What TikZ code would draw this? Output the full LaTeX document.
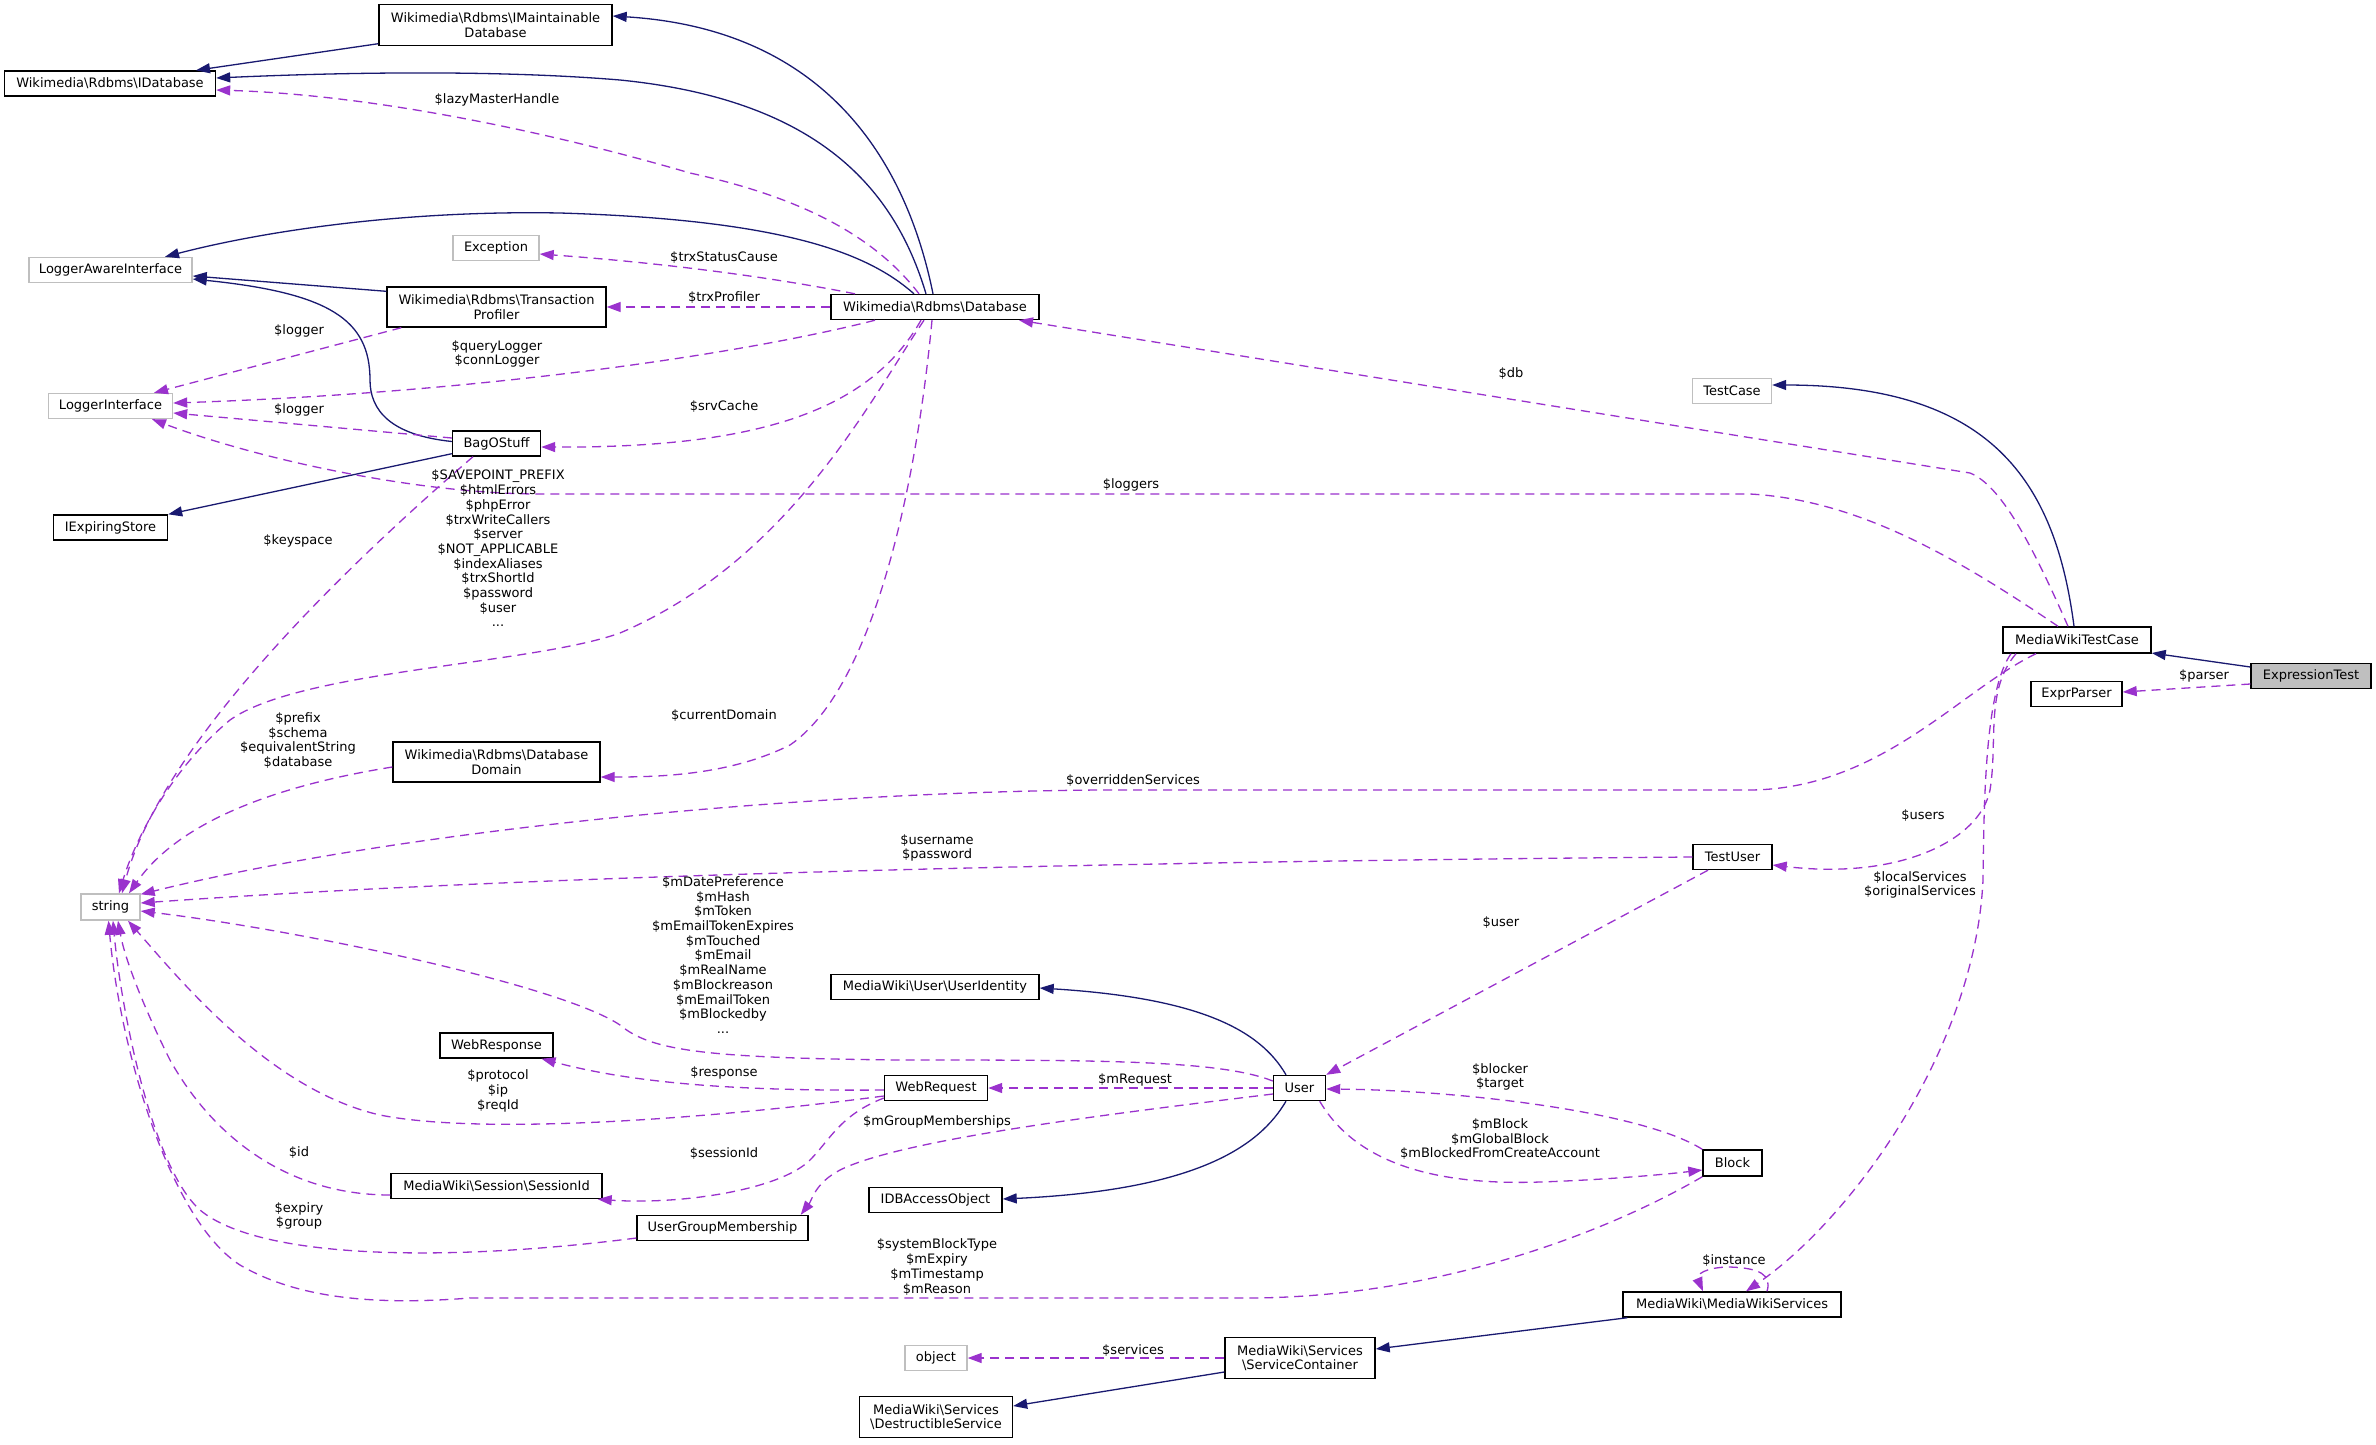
\documentclass[tikz,border=0pt]{standalone}
\usepackage{fontspec}
\setmainfont{DejaVu Sans}
\usetikzlibrary{arrows.meta,calc}
\definecolor{mblue}{HTML}{191970}
\definecolor{dorch}{HTML}{9A32CD}
\definecolor{grbox}{HTML}{BFBFBF}
\newcommand\dfont{\fontsize{13}{14.7}\selectfont}
\begin{document}
\begin{tikzpicture}[x=1pt,y=-1pt,
  cls/.style={draw=black, line width=1.4pt, fill=white, inner sep=0pt, align=center, font=\dfont},
  ext/.style={cls, draw=grbox},
  cur/.style={cls, fill=grbox},
  lbl/.style={inner sep=0pt, align=center, font=\dfont},
  inh/.style={draw=mblue, line width=1.3pt, -{Triangle[length=14pt,width=10pt]}},
  use/.style={draw=dorch, line width=1.3pt, dash pattern=on 9pt off 6pt, -{Triangle[length=14pt,width=10pt]}}]
\useasboundingbox[fill=white] (0,0) rectangle (2376,1444);

% nodes
\node[cls, minimum width=233pt, minimum height=41pt] (imaint) at (495.5,25) {Wikimedia\textbackslash Rdbms\textbackslash IMaintainable\\Database};
\node[cls, minimum width=211pt, minimum height=25pt] (idb) at (110,83.5) {Wikimedia\textbackslash Rdbms\textbackslash IDatabase};
\node[ext, minimum width=86pt, minimum height=25pt] (exception) at (496,248) {Exception};
\node[ext, minimum width=163pt, minimum height=25pt] (lai) at (110.5,270) {LoggerAwareInterface};
\node[cls, minimum width=219pt, minimum height=40pt] (tp) at (496.5,307) {Wikimedia\textbackslash Rdbms\textbackslash Transaction\\Profiler};
\node[cls, minimum width=208pt, minimum height=25pt] (database) at (935,307) {Wikimedia\textbackslash Rdbms\textbackslash Database};
\node[ext, minimum width=124pt, minimum height=25pt] (li) at (110.5,406) {LoggerInterface};
\node[ext, minimum width=79pt, minimum height=25pt] (testcase) at (1732,391) {TestCase};
\node[cls, minimum width=88pt, minimum height=25pt] (bag) at (496.5,443.5) {BagOStuff};
\node[cls, minimum width=114pt, minimum height=25pt] (iexp) at (110.5,527.5) {IExpiringStore};
\node[cls, minimum width=148pt, minimum height=26pt] (mwtc) at (2077,640) {MediaWikiTestCase};
\node[cur, minimum width=120pt, minimum height=25pt] (exprtest) at (2311,676) {ExpressionTest};
\node[cls, minimum width=91pt, minimum height=25pt] (exprparser) at (2076.5,694) {ExprParser};
\node[cls, minimum width=207pt, minimum height=40pt] (dd) at (496.5,762) {Wikimedia\textbackslash Rdbms\textbackslash Database\\Domain};
\node[cls, minimum width=79pt, minimum height=25pt] (testuser) at (1732.5,857) {TestUser};
\node[ext, minimum width=59pt, minimum height=26pt] (string) at (110.5,907) {string};
\node[cls, minimum width=208pt, minimum height=25pt] (uid) at (935,987) {MediaWiki\textbackslash User\textbackslash UserIdentity};
\node[cls, minimum width=113pt, minimum height=25pt] (wresp) at (496.5,1045.5) {WebResponse};
\node[cls, minimum width=103pt, minimum height=25pt] (wreq) at (936,1088) {WebRequest};
\node[cls, minimum width=52pt, minimum height=25pt] (user) at (1299.5,1088) {User};
\node[cls, minimum width=59pt, minimum height=26pt] (block) at (1732.5,1163) {Block};
\node[cls, minimum width=211pt, minimum height=25pt] (sid) at (496.5,1186) {MediaWiki\textbackslash Session\textbackslash SessionId};
\node[cls, minimum width=133pt, minimum height=25pt] (idbao) at (935.5,1200) {IDBAccessObject};
\node[cls, minimum width=171pt, minimum height=25pt] (ugm) at (722.5,1228) {UserGroupMembership};
\node[cls, minimum width=218pt, minimum height=25pt] (mws) at (1732,1304.5) {MediaWiki\textbackslash MediaWikiServices};
\node[ext, minimum width=62pt, minimum height=25pt] (object) at (936,1358) {object};
\node[cls, minimum width=150pt, minimum height=41pt] (sc) at (1300,1358) {MediaWiki\textbackslash Services\\\textbackslash ServiceContainer};
\node[cls, minimum width=153pt, minimum height=41pt] (ds) at (936,1417) {MediaWiki\textbackslash Services\\\textbackslash DestructibleService};

% inheritance edges
\draw[inh] ($(imaint.south west)+(0,-2.5)$) -- ($(idb.north)+(86,0)$);
\draw[inh] ($(database.north)+(-2,0)$) .. controls (910,180) and (840,30) .. ($(imaint.east)+(0,-9)$);
\draw[inh] ($(database.north)+(-9,0)$) .. controls (895,190) and (820,100) .. (620,80) .. controls (500,70) and (350,72) .. ($(idb.east)+(0,-5.5)$);
\draw[inh] ($(database.north)+(-21,0)$) .. controls (870,255) and (790,220) .. (560,213) .. controls (400,210) and (260,232) .. ($(lai.north)+(54.5,0)$);
\draw[inh] ($(tp.north west)+(0,5)$) -- ($(lai.east)+(0,6)$);
\draw[inh] ($(bag.west)+(0,-2)$) .. controls (390,435) and (370,410) .. (370,380) .. controls (370,320) and (330,293) .. ($(lai.east)+(0,9)$);
\draw[inh] ($(bag.south west)+(0,-3)$) -- (iexp.north east);
\draw[inh] ($(mwtc.north)+(-3,0)$) .. controls (2055,480) and (1990,385) .. ($(testcase.east)+(0,-6)$);
\draw[inh] ($(exprtest.west)+(0,-9)$) -- ($(mwtc.east)+(0,13)$);
\draw[inh] ($(user.north)+(-13.5,0)$) .. controls (1260,1030) and (1200,998) .. ($(uid.east)+(0,1)$);
\draw[inh] ($(user.south)+(-13.5,0)$) .. controls (1260,1145) and (1200,1190) .. ($(idbao.east)+(0,-1)$);
\draw[inh] ($(mws.south west)+(5,0)$) -- ($(sc.east)+(0,-9)$);
\draw[inh] ($(sc.west)+(0,14)$) -- ($(ds.east)+(0,-11)$);

% usage edges
\draw[use] ($(database.north)+(-16,0)$) .. controls (870,230) and (790,195) .. (690,173) .. controls (560,135) and (380,95) .. ($(idb.east)+(0,6.5)$);
\draw[use] ($(database.north)+(-80,0)$) .. controls (760,275) and (650,262) .. ($(exception.east)+(0,6)$);
\draw[use] (database.west) -- (tp.east);
\draw[use] ($(database.south)+(-60,0)$) .. controls (760,350) and (500,392) .. ($(li.east)+(0,-3)$);
\draw[use] ($(tp.south west)+(15,0)$) -- ($(li.north)+(43.5,0)$);
\draw[use] ($(bag.west)+(0,-5.5)$) -- ($(li.east)+(0,7)$);
\draw[use] ($(database.south)+(-14,0)$) .. controls (870,410) and (760,448) .. ($(bag.east)+(0,3.5)$);
\draw[use] ($(mwtc.north)+(-19,0)$) .. controls (1960,560) and (1860,500) .. (1750,494) -- (540,494) .. controls (420,494) and (260,460) .. ($(li.south)+(41.5,0)$);
\draw[use] ($(database.south)+(-11,0)$) .. controls (870,400) and (790,560) .. (620,633) .. controls (530,665) and (300,670) .. (230,720) .. controls (170,770) and (135,840) .. ($(string.north)+(8.5,0)$);
\draw[use] ($(bag.south)+(-23.5,0)$) .. controls (330,580) and (160,750) .. ($(string.north)+(11.5,0)$);
\draw[use] ($(database.south)+(-3,0)$) .. controls (915,500) and (870,690) .. (790,745) .. controls (730,775) and (660,777) .. ($(dd.east)+(0,15)$);
\draw[use] ($(dd.west)+(0,5)$) .. controls (280,785) and (180,820) .. ($(string.north)+(18.5,0)$);
\draw[use] ($(mwtc.south)+(-41,0)$) .. controls (1960,690) and (1880,790) .. (1748,790) -- (1100,790) .. controls (800,792) and (400,830) .. ($(string.north east)+(0,1)$);
\draw[use] (testuser.west) .. controls (1300,860) and (600,870) .. ($(string.east)+(0,-4)$);
\draw[use] ($(user.west)+(0,-7)$) .. controls (1220,1060) and (1100,1060) .. (900,1060) .. controls (700,1058) and (650,1050) .. (620,1025) .. controls (560,985) and (300,930) .. ($(string.east)+(0,4)$);
\draw[use] ($(wreq.west)+(0,2)$) .. controls (750,1091) and (640,1085) .. ($(wresp.south)+(45,0)$);
\draw[use] ($(wreq.west)+(0,8)$) .. controls (700,1120) and (480,1135) .. (380,1115) .. controls (270,1090) and (180,980) .. ($(string.south)+(17.5,0)$);
\draw[use] ($(sid.west)+(0,9)$) .. controls (290,1195) and (215,1140) .. (170,1060) .. controls (145,1010) and (125,960) .. ($(string.south)+(7.5,0)$);
\draw[use] ($(wreq.west)+(0,10)$) .. controls (840,1115) and (830,1140) .. (810,1160) .. controls (780,1190) and (680,1205) .. ($(sid.south east)+(-5,0)$);
\draw[use] ($(user.west)+(0,6)$) .. controls (1100,1115) and (900,1140) .. (840,1170) .. controls (815,1183) and (812,1200) .. ($(ugm.north east)+(-8,0)$);
\draw[use] ($(ugm.west)+(0,10)$) .. controls (450,1262) and (260,1260) .. (200,1210) .. controls (150,1165) and (120,1000) .. ($(string.south)+(2.5,0)$);
\draw[use] (block.south west) .. controls (1620,1225) and (1450,1297) .. (1250,1298) -- (470,1298) .. controls (380,1305) and (300,1300) .. (240,1265) .. controls (170,1220) and (120,1050) .. ($(string.south)+(-2,0)$);
\draw[use] ($(testuser.south)+(-24.5,0)$) -- (user.north east);
\draw[use] (user.west) -- (wreq.east);
\draw[use] (block.north west) .. controls (1640,1110) and (1450,1090) .. ($(user.east)+(0,1)$);
\draw[use] ($(user.south east)+(-6.5,0)$) .. controls (1360,1170) and (1450,1185) .. (1540,1182) .. controls (1600,1180) and (1660,1175) .. ($(block.west)+(0,7)$);
\draw[use] ($(mwtc.south)+(-61,0)$) .. controls (1985,690) and (1998,740) .. (1990,790) .. controls (1980,840) and (1900,880) .. ($(testuser.east)+(0,8)$);
\draw[use] ($(mwtc.south)+(-66,0)$) .. controls (1985,690) and (1984,800) .. (1983,880) .. controls (1975,1050) and (1850,1220) .. ($(mws.north)+(14,0)$);
\draw[use] ($(exprtest.west)+(0,8)$) -- ($(exprparser.east)+(0,-2)$);
\draw[use] ($(mwtc.north)+(-9,0)$) .. controls (2030,540) and (2000,485) .. (1970,473) -- ($(database.south)+(84,0)$);
\draw[use] ($(mws.north)+(35,0)$) .. controls (1772,1275) and (1760,1268) .. (1730,1267) .. controls (1705,1267) and (1696,1275) .. ($(mws.north)+(-29,0)$);
\draw[use] (sc.west) -- (object.east);

% labels
\node[lbl] (l1) at (497,100) {\$lazyMasterHandle};
\node[lbl] (l2) at (724,258) {\$trxStatusCause};
\node[lbl] (l3) at (724,298) {\$trxProfiler};
\node[lbl] (l4) at (497,354) {\$queryLogger\\\$connLogger};
\node[lbl] (l5) at (299,331) {\$logger};
\node[lbl] (l6) at (299,410) {\$logger};
\node[lbl] (l7) at (724,407) {\$srvCache};
\node[lbl] (l8) at (1131,485) {\$loggers};
\node[lbl] (l9) at (498,548.5) {\$SAVEPOINT\_PREFIX\\\$htmlErrors\\\$phpError\\\$trxWriteCallers\\\$server\\\$NOT\_APPLICABLE\\\$indexAliases\\\$trxShortId\\\$password\\\$user\\...};
\node[lbl] (l10) at (298,541) {\$keyspace};
\node[lbl] (l11) at (724,716) {\$currentDomain};
\node[lbl] (l12) at (298,740.5) {\$prefix\\\$schema\\\$equivalentString\\\$database};
\node[lbl] (l13) at (1133,781) {\$overriddenServices};
\node[lbl] (l14) at (937,848) {\$username\\\$password};
\node[lbl] (l15) at (723,955) {\$mDatePreference\\\$mHash\\\$mToken\\\$mEmailTokenExpires\\\$mTouched\\\$mEmail\\\$mRealName\\\$mBlockreason\\\$mEmailToken\\\$mBlockedby\\...};
\node[lbl] (l16) at (724,1073) {\$response};
\node[lbl] (l17) at (498,1091) {\$protocol\\\$ip\\\$reqId};
\node[lbl] (l18) at (299,1152) {\$id};
\node[lbl] (l19) at (724,1153) {\$sessionId};
\node[lbl] (l20) at (937,1122) {\$mGroupMemberships};
\node[lbl] (l21) at (299,1216) {\$expiry\\\$group};
\node[lbl] (l22) at (937,1267) {\$systemBlockType\\\$mExpiry\\\$mTimestamp\\\$mReason};
\node[lbl] (l23) at (1501,922) {\$user};
\node[lbl] (l24) at (1135,1080) {\$mRequest};
\node[lbl] (l25) at (1500,1077) {\$blocker\\\$target};
\node[lbl] (l26) at (1500,1139) {\$mBlock\\\$mGlobalBlock\\\$mBlockedFromCreateAccount};
\node[lbl] (l27) at (1923,816) {\$users};
\node[lbl] (l28) at (1920,885) {\$localServices\\\$originalServices};
\node[lbl] (l29) at (2204,676) {\$parser};
\node[lbl] (l30) at (1511,374) {\$db};
\node[lbl] (l31) at (1734,1260) {\$instance};
\node[lbl] (l32) at (1133,1350) {\$services};
\end{tikzpicture}
\end{document}
